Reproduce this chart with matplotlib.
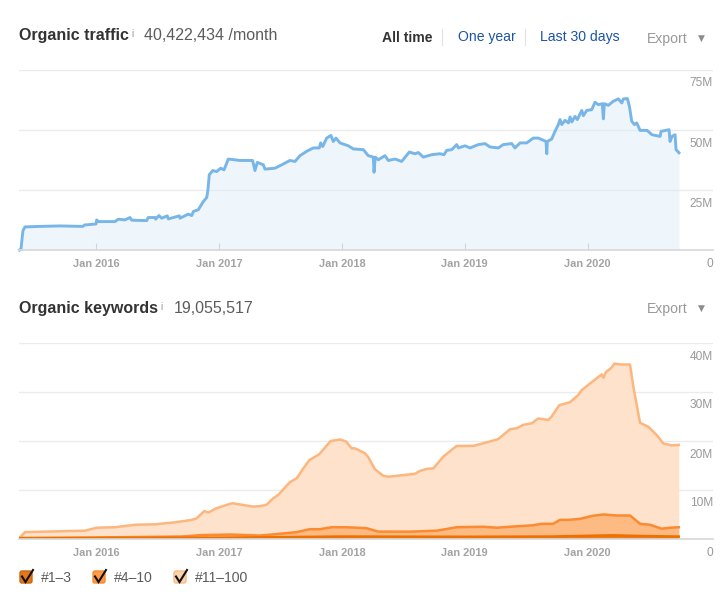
import matplotlib

matplotlib.use("Agg")
import matplotlib.pyplot as plt  # noqa: E402
from matplotlib.patches import FancyBboxPatch  # noqa: E402

plt.rcParams["font.family"] = ["Liberation Sans", "DejaVu Sans"]

W, H = 725, 597
GRID, AXIS, TICK_TXT = "#ebebeb", "#d8d8d8", "#a3a3a3"
BLUE_LINE = "#78b6e8"
LINK, DARK, MID, SOFT = "#1c54a6", "#333333", "#5c5c5c", "#999999"

year_ticks = [2016, 2017, 2018, 2019, 2020]
year_labels = ["Jan 2016", "Jan 2017", "Jan 2018", "Jan 2019", "Jan 2020"]
traffic_ticks = [0, 25, 50, 75]
traffic_labels = ["0", "25M", "50M", "75M"]
keyword_ticks = [0, 10, 20, 30, 40]
keyword_labels = ["0", "10M", "20M", "30M", "40M"]

traffic_years = [
    2015.373, 2015.385, 2015.393, 2015.401, 2015.418, 2015.540, 2015.703, 2015.890, 2015.902, 2015.996,
    2016.002, 2016.015, 2016.151, 2016.178, 2016.232, 2016.273, 2016.287, 2016.409, 2016.422, 2016.477,
    2016.482, 2016.509, 2016.531, 2016.577, 2016.585, 2016.675, 2016.680, 2016.748, 2016.776, 2016.789,
    2016.829, 2016.870, 2016.898, 2016.908, 2016.919, 2016.947, 2016.979, 2017.012, 2017.039, 2017.074,
    2017.169, 2017.272, 2017.291, 2017.310, 2017.359, 2017.373, 2017.454, 2017.509, 2017.576,
    2017.617, 2017.658, 2017.712, 2017.766, 2017.815, 2017.826, 2017.843, 2017.875, 2017.910,
    2017.929, 2017.951, 2017.984, 2018.051, 2018.092, 2018.174, 2018.214, 2018.255, 2018.261,
    2018.271, 2018.296, 2018.350, 2018.377, 2018.432, 2018.486, 2018.548, 2018.595, 2018.622,
    2018.662, 2018.731, 2018.798, 2018.831, 2018.853, 2018.894, 2018.934, 2018.948, 2019.002,
    2019.043, 2019.110, 2019.165, 2019.206, 2019.273, 2019.314, 2019.383, 2019.409, 2019.450,
    2019.505, 2019.558, 2019.599, 2019.662, 2019.668, 2019.672, 2019.708, 2019.735, 2019.762,
    2019.776, 2019.790, 2019.817, 2019.844, 2019.858, 2019.872, 2019.898, 2019.917, 2019.953,
    2019.966, 2019.994, 2020.034, 2020.061, 2020.088, 2020.120, 2020.129, 2020.137, 2020.169,
    2020.210, 2020.251, 2020.279, 2020.292, 2020.325, 2020.341, 2020.360, 2020.382, 2020.401,
    2020.428, 2020.485, 2020.525, 2020.591, 2020.599, 2020.664, 2020.672, 2020.688, 2020.713,
    2020.721, 2020.745,
]
traffic_m = [
    0, 0.4, 4.0, 8.0, 9.6, 9.8, 10.0, 9.8, 10.4, 10.8,
    12.5, 11.8, 11.8, 12.8, 12.5, 13.5, 12.4, 12.2, 13.5, 13.5,
    12.8, 14.3, 13.2, 14.2, 12.9, 14.2, 13.2, 14.9, 14.3, 16.0,
    16.7, 20.1, 21.8, 25.0, 31.3, 33.0, 32.6, 34.0, 33.3, 37.8,
    37.2, 37.2, 33.0, 36.4, 35.4, 33.6, 34.0, 35.4, 37.2,
    36.8, 39.2, 41.0, 42.4, 42.4, 44.5, 43.0, 46.5, 47.6,
    45.1, 46.5, 44.5, 43.3, 42.0, 41.7, 39.2, 38.6, 32.3,
    38.6, 37.5, 39.2, 37.2, 37.8, 36.8, 40.7, 40.0, 40.5,
    38.6, 39.6, 40.0, 39.6, 41.4, 41.7, 43.8, 42.4, 43.3,
    42.4, 43.8, 44.2, 42.8, 42.4, 43.8, 44.2, 42.4, 44.5,
    44.5, 46.5, 46.5, 45.1, 40.0, 45.1, 46.1, 49.3, 52.1,
    54.2, 52.1, 53.9, 52.8, 55.3, 53.2, 55.5, 54.2, 58.0,
    55.8, 58.0, 58.3, 61.4, 60.4, 60.8, 54.5, 60.8, 60.1,
    61.8, 62.8, 61.1, 62.8, 62.9, 59.7, 53.5, 52.1, 52.8,
    49.7, 49.7, 47.9, 47.2, 49.3, 50.0, 45.1, 47.2, 47.9,
    41.7, 40.4,
]

# keyword curves are read as stacked totals, each one includes the bands below it
top100_years = [
    2015.373, 2015.418, 2015.906, 2016.002, 2016.151, 2016.314, 2016.477, 2016.639, 2016.776,
    2016.816, 2016.878, 2016.911, 2016.979, 2017.106, 2017.277, 2017.332, 2017.386, 2017.440,
    2017.481, 2017.576, 2017.631, 2017.685, 2017.734, 2017.815, 2017.908, 2017.984, 2018.033,
    2018.079, 2018.106, 2018.187, 2018.214, 2018.269, 2018.336, 2018.377, 2018.595, 2018.635,
    2018.690, 2018.744, 2018.825, 2018.934, 2019.070, 2019.206, 2019.273, 2019.369, 2019.423,
    2019.477, 2019.545, 2019.599, 2019.681, 2019.708, 2019.770, 2019.857, 2019.925, 2019.953,
    2020.116, 2020.129, 2020.151, 2020.197, 2020.218, 2020.279, 2020.346, 2020.373, 2020.428,
    2020.495, 2020.564, 2020.617, 2020.686, 2020.743,
]
top100_m = [
    0.1, 1.3, 1.6, 2.2, 2.3, 2.8, 2.9, 3.3, 3.8,
    4.1, 5.6, 5.3, 6.2, 7.2, 6.5, 6.6, 6.9, 8.2,
    8.9, 11.5, 12.3, 14.3, 16.0, 17.2, 19.9, 20.2, 19.8,
    18.4, 18.4, 17.4, 16.6, 14.1, 12.8, 12.6, 13.2, 13.8,
    14.2, 14.3, 16.7, 18.9, 18.9, 19.8, 20.3, 22.3, 22.5,
    23.2, 23.5, 24.5, 24.2, 24.9, 27.2, 27.8, 29.3, 30.3,
    33.5, 32.8, 34.0, 34.9, 35.7, 35.5, 35.5, 31.0, 23.6,
    22.8, 21.1, 19.4, 19.0, 19.1,
]
top10_years = [
    2015.373, 2015.961, 2016.695, 2016.858, 2017.102, 2017.332, 2017.467, 2017.631, 2017.739,
    2017.820, 2017.915, 2018.037, 2018.200, 2018.296, 2018.557, 2018.774, 2018.934, 2019.151,
    2019.260, 2019.369, 2019.556, 2019.627, 2019.719, 2019.776, 2019.841, 2019.939, 2020.034,
    2020.126, 2020.238, 2020.346, 2020.428, 2020.509, 2020.604, 2020.672, 2020.743,
]
top10_m = [
    0.1, 0.2, 0.4, 0.7, 0.8, 0.6, 0.9, 1.3, 1.9,
    1.9, 2.3, 2.3, 2.1, 1.4, 1.4, 1.6, 2.3, 2.4,
    2.2, 2.4, 2.7, 3.0, 3.0, 3.8, 3.8, 4.0, 4.6,
    4.9, 4.7, 4.7, 3.0, 2.8, 2.0, 2.2, 2.3,
]
top3_years = [2015.373, 2016.0, 2017.0, 2017.6, 2018.0, 2019.0, 2019.7, 2020.2, 2020.45, 2020.743]
top3_m = [0.05, 0.1, 0.15, 0.3, 0.4, 0.35, 0.4, 0.65, 0.5, 0.4]


def pixel_axes(fig, left, top, right, bottom):
    return fig.add_axes([left / W, 1 - bottom / H, (right - left) / W, (bottom - top) / H])


def style_axes(ax, yticks, ylabels, ymax):
    ax.set_xlim(2015.369, 2021.022)
    ax.set_ylim(0, ymax)
    ax.set_facecolor("none")
    for side in ("top", "left", "right"):
        ax.spines[side].set_visible(False)
    ax.spines["bottom"].set_color(AXIS)
    ax.spines["bottom"].set_linewidth(1.2)
    ax.set_xticks(year_ticks, year_labels)
    ax.tick_params(axis="x", direction="in", length=5, width=0.8, color="#c8c8c8",
                   labelsize=7.9, labelcolor=TICK_TXT, pad=6.5)
    for lab in ax.get_xticklabels():
        lab.set_fontweight("bold")
    ax.yaxis.tick_right()
    ax.set_yticks(yticks, ylabels)
    ax.tick_params(axis="y", length=0, labelsize=8.6, labelcolor=SOFT, pad=0)
    shift = matplotlib.transforms.ScaledTranslation(0, -8 / 100, ax.figure.dpi_scale_trans)
    for lab in ax.get_yticklabels():
        lab.set_ha("right")
        lab.set_va("top")
        lab.set_transform(lab.get_transform() + shift)
    ax.grid(axis="y", color=GRID, lw=1.0)
    ax.set_axisbelow(True)


fig = plt.figure(figsize=(W / 100, H / 100), dpi=100, facecolor="white")

ax1 = pixel_axes(fig, 19, 69.5, 713, 250)
style_axes(ax1, traffic_ticks, traffic_labels, 75)
ax1.fill_between(traffic_years, traffic_m, color="#d8eafa", alpha=0.42, lw=0)
ax1.plot(traffic_years, traffic_m, color=BLUE_LINE, lw=2.1, solid_joinstyle="round", clip_on=False)

ax2 = pixel_axes(fig, 19, 342.5, 713, 538.5)
style_axes(ax2, keyword_ticks, keyword_labels, 40)
ax2.fill_between(top100_years, top100_m, color="#fee2cb", lw=0)
ax2.plot(top100_years, top100_m, color="#fdb67d", lw=1.8)
ax2.fill_between(top10_years, top10_m, color="#fdba82", lw=0)
ax2.plot(top10_years, top10_m, color="#fc8a30", lw=1.8)
ax2.fill_between(top3_years, top3_m, color="#f07a1a", lw=0)
ax2.plot(top3_years, top3_m, color="#ee7000", lw=1.8)

# page furniture around the two charts, placed in pixels
ov = fig.add_axes([0, 0, 1, 1], zorder=5)
ov.set_xlim(0, W)
ov.set_ylim(H, 0)
ov.axis("off")

HEAD, BODY = 11.5, 10.1
ov.text(19, 35.5, "Organic traffic", fontsize=HEAD, fontweight="bold", color=DARK, va="center")
ov.text(131, 34, "i", fontsize=7, color=SOFT, va="center")
ov.text(144, 35.5, "40,422,434 /month", fontsize=HEAD, color=MID, va="center")
ov.text(382, 37.5, "All time", fontsize=BODY, fontweight="bold", color=DARK, va="center")
ov.text(458, 37.5, "One year", fontsize=BODY, color=LINK, va="center")
ov.text(540, 37.5, "Last 30 days", fontsize=BODY, color=LINK, va="center")
ov.plot([442.5, 442.5], [29, 45], color="#e2e2e2", lw=0.8)
ov.plot([525, 525], [29, 45], color="#e2e2e2", lw=0.8)

ov.text(19, 308.5, "Organic keywords", fontsize=HEAD, fontweight="bold", color=DARK, va="center")
ov.text(160, 307, "i", fontsize=7, color=SOFT, va="center")
ov.text(174, 308.5, "19,055,517", fontsize=HEAD, color=MID, va="center")

for y in (38.5, 308.5):
    ov.text(647, y, "Export", fontsize=BODY, color=SOFT, va="center")
    ov.text(701, y, "▼", fontsize=6.5, color="#8c8c8c", ha="center", va="center",
            family=["DejaVu Sans"])

legend_names = ["#1–3", "#4–10", "#11–100"]
legend_box_x = [19, 92, 173]
legend_text_x = [41, 114, 195]
legend_fill = ["#e5761a", "#fd9a45", "#fdd3ae"]
legend_edge = ["#c9660f", "#f58a30", "#f7bc8b"]
for name, bx, tx, face, edge in zip(legend_names, legend_box_x, legend_text_x, legend_fill, legend_edge):
    ov.add_patch(FancyBboxPatch((bx + 1, 571), 12, 12, boxstyle="round,pad=0,rounding_size=2",
                                facecolor=face, edgecolor=edge, lw=1))
    ov.plot([bx + 3, bx + 6.5, bx + 14], [576.5, 582, 570], color="#111111", lw=1.5,
            solid_joinstyle="miter")
    ov.text(tx, 578.5, name, fontsize=BODY, color=MID, va="center")

fig.savefig("out.png", dpi=100)
